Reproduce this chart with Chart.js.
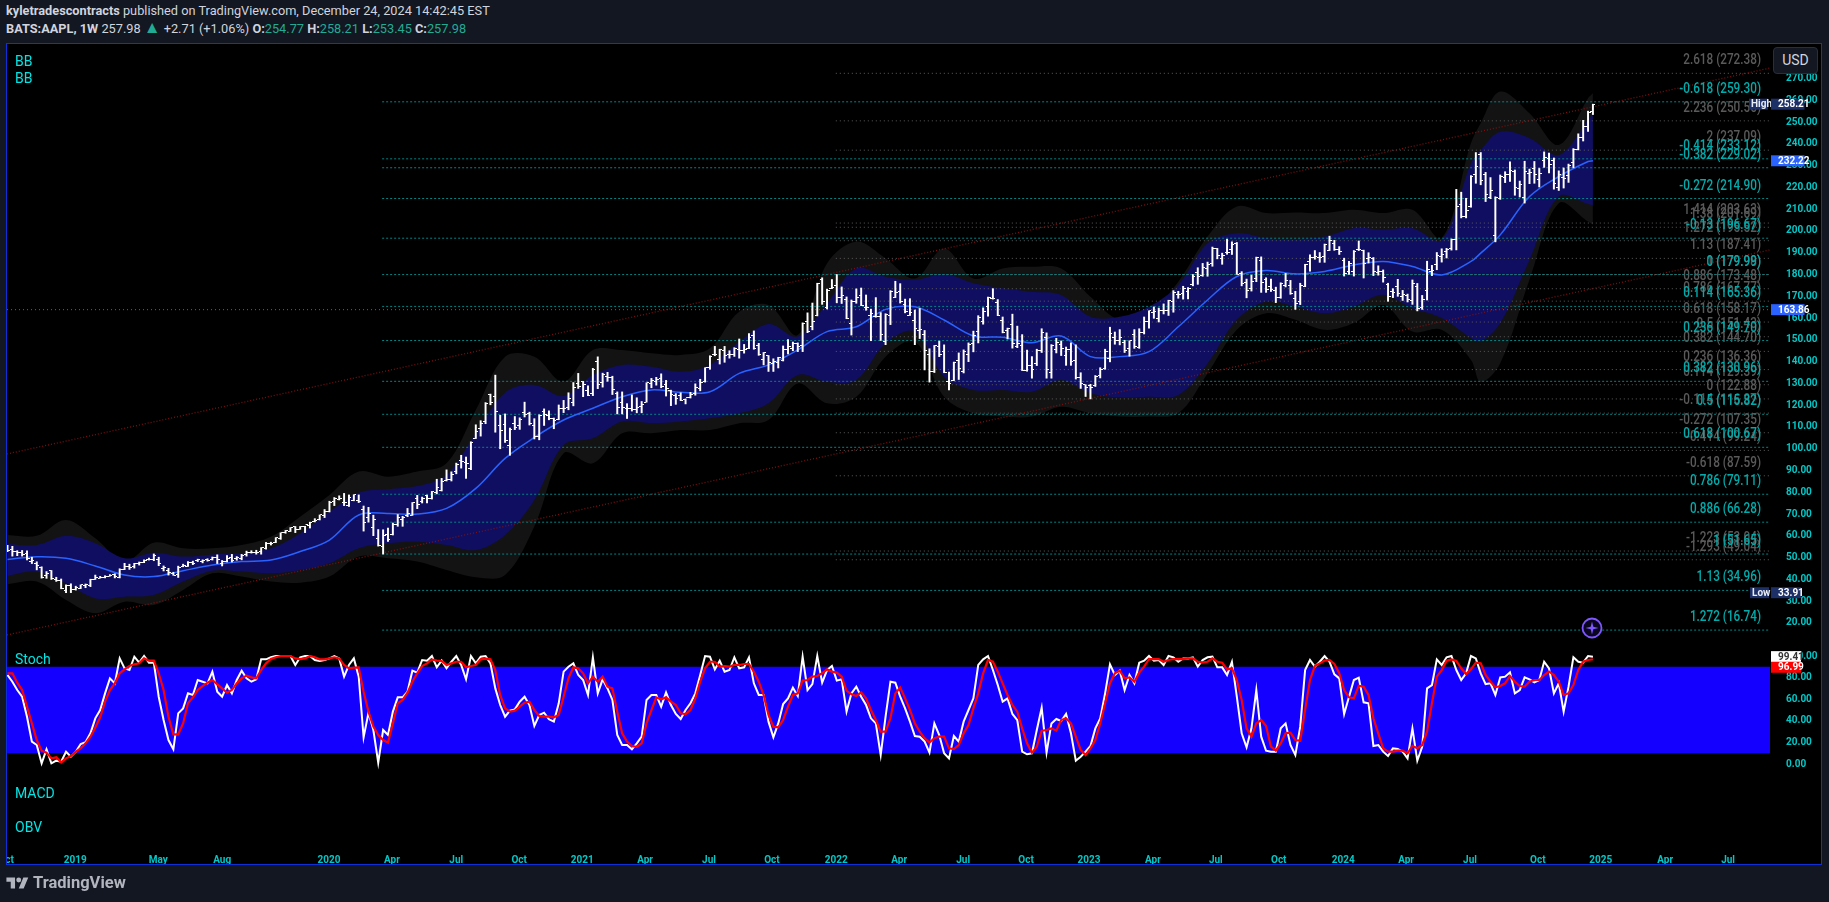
<!DOCTYPE html>
<html>
<head>
<meta charset="utf-8">
<title>BATS:AAPL 1W</title>
<script src="https://cdn.jsdelivr.net/npm/chart.js@4"></script>
<style>
  html, body { margin: 0; background: #131722; overflow: hidden; width: 1829px; height: 902px; }
  body { position: relative; font-family: Roboto, sans-serif; color: #d1d4dc; }
  .abs { position: absolute; white-space: pre; line-height: 1; }
  #panel { position: absolute; left: 6px; top: 43px; width: 1814px; height: 820px; border: 1px solid #0f2fd8; background: #000; }
  #c { position: absolute; left: 7px; top: 44px; }
  .ind { color: #00e5e5; font-size: 14px; }
  .hd { font-size: 12.75px; left: 6px; }
  .hd b { font-weight: 700; }
  .v { color: #22ab94; }
  .up { color: #22ab94; font-size: 17px; line-height: 0; }
  #usd { position: absolute; left: 1773px; top: 47px; width: 43px; height: 25px; border: 1px solid #2a2e39; border-radius: 4px; background: #131722; color: #d1d4dc; font-size: 14px; text-align: center; line-height: 25px; }
</style>
</head>
<body>
<div class="abs hd" style="top:5px"><b>kyletradescontracts</b> published on TradingView.com, December 24, 2024 14:42:45 EST</div>
<div class="abs hd" style="top:23px"><b>BATS:AAPL, 1W</b> 257.98 <span class="up">▲</span> +2.71 (+1.06%) <b>O:</b><span class="v">254.77</span> <b>H:</b><span class="v">258.21</span> <b>L:</b><span class="v">253.45</span> <b>C:</b><span class="v">257.98</span></div>
<div id="panel"></div>
<canvas id="c" width="1814" height="820"></canvas>
<div class="abs ind" style="left:15px;top:54px">BB</div>
<div class="abs ind" style="left:15px;top:71px">BB</div>
<div class="abs ind" style="left:15px;top:652px">Stoch</div>
<div class="abs ind" style="left:15px;top:786px">MACD</div>
<div class="abs ind" style="left:15px;top:820px">OBV</div>
<div id="usd">USD</div>
<svg class="abs" style="left:1581px;top:617px" width="22" height="22" viewBox="0 0 22 22">
  <circle cx="11" cy="11" r="9.5" fill="#0b0620" stroke="#7e57ff" stroke-width="1.8"/>
  <path d="M11 4.5 L12.3 9.7 L17.5 11 L12.3 12.3 L11 17.5 L9.7 12.3 L4.5 11 L9.7 9.7 Z" fill="#7e57ff"/>
</svg>
<svg class="abs" style="left:6px;top:875px" width="23" height="16" viewBox="0 0 36 26">
  <path d="M14 22H7V11H0V4h14v18zM28 22h-8l7.5-18h8L28 22z" fill="#b2b5be"/><circle cx="20" cy="8" r="4" fill="#b2b5be"/>
</svg>
<div class="abs" style="left:33px;top:875px;font-size:16.5px;font-weight:700;color:#b2b5be;">TradingView</div>
<script>
// weekly bars, Oct 2018 - Dec 2024
var opens = [
  54.4,53.9,52.8,52.5,51.8,48.4,47.3,45.4,41.6,44,40.1,39.6,34.9,37.4,
  35.6,36,37.3,37.4,40.1,40.6,40.7,41.5,42.1,40.9,44.7,46,46,47.2,47.9,49,49.1,49.1,45,44.1,42.9,42.1,46,46.1,47.6,48.8,48.2,49,49.3,50,47.5,48.1,49.9,49.4,49.5,51.6,52.2,52.5,53,54.1,56.4,57,58.7,61.7,62,64.2,63.1,64.3,64.8,66.4,67.3,69.5,
  71.2,75.6,76.9,75.2,73.8,76.1,76.4,72.1,68.5,63.9,58.7,55.3,60.8,60.8,65.1,67.4,69.2,69.5,77,76,78.5,77,80.1,80.8,85.2,85.7,89.7,94.4,93.5,90.9,104.9,109.2,112.5,124.8,123.8,110.5,111.3,101.4,111.6,110.5,116.5,116.4,110.6,105.8,116.9,115.3,113.7,113.5,118.6,118.9,121.3,130,
  130.8,126.6,125.2,140.2,130.5,133.3,132.8,125.4,121.3,118.5,118.6,117.9,119.2,121.4,129.9,130.8,132.1,129.4,126.8,124.3,124.5,122.6,123.7,125.2,127.7,130.7,137.3,143.3,140.9,145.3,143.5,143.3,145.5,145.3,146,151.9,147.6,140.9,142.6,139,139.5,140.6,145.7,146,148.4,147.4,158.5,156.2,161,177.5,164.9,173.6,
  174.9,169.5,168.7,157.4,167.5,170.2,164.8,161.4,160.5,160.9,149.2,161,169.6,172,166.2,161.4,158.7,154.3,152.6,143.4,135.7,146.9,144.8,130.9,131.4,140.6,135.7,143.5,148.4,153.7,158.6,165.2,168.9,167.2,158.7,154.2,157.2,147.1,147.5,136.1,138.3,139,145,150.9,135,145.8,148,142.9,145.8,140.6,132.8,129.4,
  129,129.2,133.5,136.7,141.6,151.1,149.5,148.7,146.2,152.3,146.3,153.5,158.3,162.7,159.8,163.4,163.4,167.6,170.8,171.5,172.2,175.2,180.8,179.5,182.6,184.9,191.9,187.4,190,191.5,194.1,180.3,176.2,173.4,178.3,186.4,177.7,174.7,172.5,169.5,175,175,169.2,167.7,174.6,185.8,188,187.9,188.3,191.2,194.1,191.7,
  186.3,181.2,181.3,191.3,191,187.3,187.5,180.9,181.3,175.3,172,174.7,169.7,170.3,168.2,174.5,164.7,172.5,181.5,184.5,188.4,190.5,191.9,196,212.3,206.7,211,225.9,235.3,225.9,215.4,198.1,214.9,224.6,225.7,227.5,219.7,215.4,226.2,228.9,223.4,232.4,233.4,232.2,219.9,224.6,225.3,231.5,237.3,242.9,248,254.77
];
var highs = [
  55.7,55.2,53.2,53.3,53.1,50.2,48.1,45.8,43.6,44.1,41,40.2,37.5,38,
  36.9,37.5,37.9,40.1,42,41.4,41.7,42.2,42.6,44.9,47.4,47,47.4,48,49,49.8,51.7,50.2,46.2,45.1,43.3,46.1,47,48.2,48.4,49.3,49,49.5,50.3,51.3,48.7,50.9,51.5,50.5,51.5,53,53.2,53.4,54.6,57,57.1,59.2,61.4,62.5,63.8,64.3,64.3,64.4,66.3,67.9,69.6,72.1,
  75.9,77.6,78.4,79.5,78.8,78.9,78.8,73.7,73.1,69.5,62.9,62.8,63.6,65.9,69.8,69,72.6,75.3,78.6,77.8,78.7,80.4,86,86.4,90.3,89.4,93.4,97,96.2,103.2,111,112.9,121.2,125.1,133.8,115.4,116,109.5,114.8,114.2,121.4,116.8,113.8,115.6,118.3,117.4,114.1,120.1,122.2,125.7,130.4,134.6,
  130.9,128.9,136.9,142.2,134.7,135.1,133.3,126.1,126.1,120.7,124.7,123.4,121.7,130.3,132.3,132.8,134.4,131.4,126.9,125.3,125.7,122.9,125.9,129.8,131.9,137.2,142.7,147,145.7,147,145,146.4,150.4,147.9,152.9,154.1,148.4,144.2,142.8,141.3,142,147.2,150.1,149,148.6,157.8,162.4,166.9,176,178.5,173.3,177.7,
  179.99,174.3,169.7,168.3,173.4,173.8,170.6,164.1,169.4,162.5,162,172.6,176.9,175.8,168.7,168.9,163.7,164.4,154.3,145.9,147.4,149.4,147.7,135.2,139.8,144,145.4,148.6,154,161.1,164.7,169.6,173.5,168.5,160.5,155.4,161.8,156.3,152.4,145.3,142.3,145.7,155.1,153.2,147.8,150.7,149.5,146.7,148.6,147.7,134.9,129.4,
  129.6,133.6,137.2,145.7,155.8,153.6,154.7,149.8,149.6,154.7,155.1,160.5,163.3,165.1,164.6,166.5,168.2,172.6,172.3,174.6,174,180,183.1,185.1,185.7,192.6,192,189.8,196.2,195,194.7,181.3,177.9,179.7,188,188.1,178.5,177.9,174.2,176.2,180.5,177.3,172.3,176,184.7,189,191,190.1,194,197.6,195.7,192.8,
  187.5,186.1,191,195.4,191.2,190,187.8,184,182.1,176,173.5,177.8,172.7,171,177.5,175.9,170.4,186.1,184.2,190.1,191.8,192,196.3,219.1,217.8,215,225.4,236,236,226.9,224.5,215.7,225.7,227.2,231.7,228,222.9,232,228.4,231.9,228.7,236.3,235.7,233.5,227.6,228.9,230.7,237.8,244.6,250.8,255,258.21
];
var lows = [
  52.7,50.7,50.9,50.7,49,47.3,44.4,40.6,40.5,40,39.1,35.7,33.91,33.95,
  35.1,35.8,36.2,36.7,40,40.6,40.7,41.5,40.7,40.7,44.5,44.6,45.2,46.6,47.7,48.9,48.6,46.3,43.9,42,41.9,40.9,45.8,46,46.8,48.2,47.6,48.4,48.9,47.3,46.2,48,48,48.8,49,50.7,52.1,51.6,51.6,53.9,55.8,56.9,58.4,61.2,62,61.5,63,61.5,63.6,66.4,67.3,68.4,
  71,73.9,76.5,73.9,73.5,76.1,75.3,62.2,66.3,60.1,55.3,51.65,57.4,60.4,64.4,64.4,68.8,69.4,72.5,75.1,75.1,76.9,79.3,80.6,85.2,85.2,88.5,91.1,86.4,90.4,104.7,105.8,111.5,120.2,107.6,100,102.9,97,108.8,108.9,114.6,110.9,104.5,104.1,110.7,113.3,109.2,113.3,116.6,117.9,119.7,127.7,
  123.9,124.4,124.4,127.6,128.3,131,124.9,116,116,113.9,117.3,116.5,116.5,121.4,128,129.2,128,124.2,119.8,120.4,122.1,120.6,123.3,124.6,126.6,130.6,136.5,142.7,138.9,139.7,141.6,142.4,141.6,143.9,145.9,145.7,142.9,138.5,135.5,135.5,137.1,140.3,143.5,145,144.6,144.6,153.3,154.6,161,166.3,164.2,173.5,
  167,166.7,159.7,152.2,166.8,165.7,163.6,149.6,160.4,149.7,147.8,157,169.4,166.9,162.4,161.2,147.8,150.6,136.2,130.6,135,142.3,134.9,127,131.3,131.8,134.8,140,144.5,148.6,157.2,160.9,168.7,161.1,153.2,150.4,146.2,146.4,135.9,135.6,132.4,138.2,144.2,132.4,132.4,144,142.8,138.3,138.3,132,127.7,124,
  122.88,128.6,132.5,136.5,139.9,148,147.7,144.2,142.5,146.1,146.1,152.7,155.4,159.9,158.2,161.9,161.2,162.7,169.1,168.7,168.8,174.8,175.5,179.2,179.2,183.8,187.2,184.7,189.3,189.2,180.1,174.8,169.3,172.4,176.7,171.8,171.8,172.2,167.1,169.1,174.3,170.9,164,166.2,174.4,181.5,187,185.6,185.6,191,191.1,189.2,
  179.3,180,179.3,191,178.4,185.3,179.5,179.7,176.5,167.7,169.4,170,168.1,167.4,166.3,163.3,164,168.3,179.5,182.2,185.7,187.6,191.2,191.3,206,206,210.9,221.9,221.2,213.5,214.8,195,214.5,222.2,222.8,216.4,215.6,212.8,221.7,221.9,220.2,229.2,226.7,219.2,218.6,219.7,222.3,229,237.2,241.3,245.7,253.45
];
var closes = [
  53.5,53,52.4,51.6,49.5,48.8,46.2,41.1,42.6,40.2,39.5,36,37.3,35.4,
  36.4,37.5,37.7,39.8,40.7,40.8,41.5,42,41.5,44.7,45.9,45.6,47.3,47.7,48.9,49,50.8,47.3,45.4,43,42,45.6,46.3,47.7,47.5,49,48.8,48.6,49.9,49,48.2,49.6,48.6,50.1,51.2,52.5,52.3,52.5,54.5,56.7,56.5,59.2,61.4,62.4,63.8,62.8,64.1,65,66,67.1,69.6,71.4,
  75.3,77.3,77.2,75.1,77.6,78.8,75.9,66.3,70.1,67.4,55.6,60.1,58.5,65,68.6,68.6,70.1,75.2,74.6,77.3,77.1,80.4,82.2,84.8,85.8,88.3,93,94.1,93.4,103.1,107.8,111.5,120.6,121.1,117.3,108.6,103.6,108.9,109.6,113.5,115.5,111.6,105.6,115.1,115.7,113.8,113.1,118.6,118.7,122.9,128,128.7,
  129.4,124.6,136.3,129.3,134,132.7,127.3,118.8,119,118.6,118.1,118.8,120.5,130.3,131.5,131.6,128.8,127.6,124.9,122.9,122.1,123.4,124.8,127.9,130.4,137.2,142.2,143.5,145.6,142.9,143.2,146.1,145.2,145.6,151.2,146,143.1,144,139.8,140,141.9,145.7,146.8,148.3,147,157.3,153.7,158.6,175.9,167.7,172.8,174,
  169.4,170.3,159.8,167.6,169.6,166,164.7,162.3,160.7,152.4,161.5,172,171.7,167.5,162.8,162.6,155.3,154.9,144.9,135.5,147.4,143.2,135.1,129.9,139.5,136.9,144.8,147.9,151.8,160.1,162.9,169.5,168.9,161.2,153.5,155,148.4,148.2,136.1,138,136.3,145.1,153.4,136.3,147.4,149,145.9,145.6,140,132.5,129.9,128,
  128.3,133.4,136.5,144.5,153,149.5,151,145.2,149.5,147,153.5,158.6,163.3,163,163.6,163.4,168,171.8,170.8,173.4,173.7,179.1,179.1,183.1,184.8,192,188.8,188.8,190,193.9,180.2,176,172.8,176.8,187.6,176.4,173.3,173,169.5,175.7,177.1,171.2,166.5,174.9,184.5,187.8,188.1,188,193.7,195.6,191.7,190.6,
  180.3,185,190.6,191.5,184.9,187.9,181.4,181.6,178.8,169.9,171.8,171.4,170.6,168.7,175.7,164.2,168.5,182.5,181.8,188.9,189,191.3,195.9,211.4,206.5,209.6,225.2,229.4,223.2,216.9,218.8,215.2,224.9,225.7,227.9,219.8,221.4,227.1,226.7,225.7,226.5,233.9,230.3,221.8,225.8,224.2,229.9,237.3,242.8,248.1,254.5,257.98
];

// bollinger envelopes, read at these bar numbers
var bbIndex = [0,6,12,18,24,30,36,42,48,54,60,66,72,78,84,90,96,102,108,114,120,126,132,138,144,150,156,162,168,174,180,186,192,198,204,210,216,222,228,234,240,246,252,258,264,270,276,282,288,294,300,302,306,312,318,324,325];
var bbBasis = [49.2,50.4,49.7,46.2,42,41.3,44,46.6,48.2,48.9,52.8,58.1,69.6,70.3,70,72.6,81.8,95.6,105.2,113.2,118.6,123.9,127,125.9,126.2,134.6,138.5,145.4,153.8,156,164,165.2,159.1,151.8,151.2,148.7,151.8,142.3,142.3,144.6,156,168.3,179.1,181.8,180.3,181.4,184.4,186,183.7,179.8,186,189.8,198.2,215.8,225,231.9,232.22];
var bbInnerUp = [56.3,55.8,60,56.6,49.7,52.3,50.5,51.5,52,54.3,61.2,71.1,79.8,81.4,82.9,88,107.1,125.8,129.3,124.2,133.9,138.5,137.7,135.4,138.5,149.2,157.3,151.5,166.8,182.8,179,177.5,180.2,176,173.7,172.1,170.6,160.6,160.6,165.2,175.2,194.3,199,196.7,196.2,197.4,201.3,200.5,201.3,195.9,231.1,237.2,245.6,242.6,234.9,251,254];
var bbInnerLow = [41.6,43.6,38.2,31.3,32.1,32.9,39,44,43.6,42.8,44.3,47.4,54.3,56.6,57.3,55.8,53.5,60.4,76.5,101.7,104.8,112.5,111.7,112.5,114,116.3,120.9,133.9,130.8,131.6,148.4,153.8,133.1,127,127,126.2,131.6,125.5,123.6,123.9,124.7,139.2,159.2,167.6,165.3,162.2,165.3,170.7,164.5,160,150.8,149.2,157.7,186.7,215.8,212.4,211.7];
var bbOuterUp = [60.4,60,67.3,58.9,48.2,56.9,54.3,54.3,55.8,59.6,68.8,78.8,89.5,87.2,89.5,93.3,117.8,142.3,142.3,130.8,145.3,145.3,143.8,143.1,146.1,162.9,166,152.2,185.1,195.1,187.4,178.2,192,178.2,182.8,183.6,182.8,169.8,159.1,162.2,176.7,197.4,211.2,208.2,208.5,208.2,209.7,208.2,209.7,196.7,240.3,249.5,264,254.1,239.5,260.9,263.2];
var bbOuterLow = [37.8,39,30.6,24.5,29.8,28.3,35.2,42.8,41.3,39,38.5,41.3,50.5,49.7,48.2,44.3,41,42,64.3,97.9,93.3,107.1,107.1,108.6,108.6,111.7,113.2,130,120.9,123.9,142.3,149.2,123.9,116.3,114.8,114.8,119.3,116.3,114.8,114.8,116.3,134.6,154.6,162.2,159.2,154.6,157.7,166,153.8,154.6,140.8,130.7,139.3,177.6,212.7,204.3,202.8];

// stochastic
var stochK = [
  82.4,76.2,68.5,62.3,43.8,20.7,17.6,0.6,13.6,0.6,3.1,2.2,11.4,6.8,11.4,18.5,20.1,28.4,42.3,50,65.4,79.3,74.7,97.8,88.6,87,99.4,93.8,100,93.8,93.8,62.3,40.7,22.2,13.6,46.9,51.5,65.4,63.9,77.8,76.2,74.7,85.5,67,62.3,73.1,65.4,77.8,86.4,79.3,76.2,78.4,96.9,96.9,98.8,100,100,100,100,91.7,98.8,100,100,96.3,95.4,96.3,97.8,100,97.8,80.9,91.7,97.8,80.9,24.7,47.5,31.5,1.2,31.5,26.8,48.5,61.7,61.7,67,86.4,84.6,96.3,95.7,100,89.5,95.7,88.6,94.7,100,91.7,78.4,100,93.2,99.4,100,93.2,70,54.6,43.8,49.4,50.6,57.7,62.3,54.6,35.2,45.4,47.5,41.4,39.2,56.2,85.5,90.1,93.2,82.4,77.8,63.9,98.8,65.4,78.4,70,
  59.3,26.8,17.6,17.6,13.6,19.1,25.3,59.3,63.9,63.9,53.1,66.3,54.6,46.3,41.7,50,56.2,65.4,82.4,100,99.4,87.6,95.7,85.5,87,98.8,88.6,89.5,98.8,74.7,63.9,63.9,39.2,24.7,37.6,55.5,60.8,70.7,63,99.4,68.5,74,100,75.3,87,90.7,77.2,78.4,48.5,65.4,71.6,62.3,54.6,42.3,37.6,8.3,43.8,76.2,75.3,62.3,51.5,39.2,25.9,25.3,20.7,10.5,37.6,26.8,9.9,5.2,25.9,20.7,39.2,50,60.8,91.7,96.9,100,87,73.1,57.7,60.8,46.3,40.7,11.4,9,9.9,31.5,52.2,10.5,37.6,41.7,39.8,46.3,28.4,3.1,6.8,11.4,16.7,33,42.3,65.4,92.3,82.4,86.4,68.5,82.4,74.7,93.8,95.7,100,95.7,96.3,91.7,100,98.8,94.7,97.8,97.8,98.8,90.1,96.3,98.8,99.4,89.5,
  89.5,82.4,94.7,62.3,28.4,15.4,33,68.5,25.3,12.3,11.4,11.4,33,37.6,17.6,8.3,34.6,87,96.3,90.1,94.7,100,94.7,83,79.3,46.3,62.3,77.8,79.9,57.1,56.2,16.7,17.6,11.4,7.4,14.5,13.9,11.4,5.2,33,3.1,16,70,73.1,96.9,91.7,98.8,100,87,77.8,83.9,100,97.8,83.9,74,74.7,63.9,80.2,80.9,84.9,65.4,68.5,80.2,78.4,75.6,77.8,94.7,88.6,65.4,74.7,48.5,71.6,98.8,94.7,93.8,100,99.41
];
var stochD = [
  84,84,75.3,68.5,53.1,37.6,22.2,12.3,10.5,5.2,6.2,1.5,5.2,7.4,11.4,14.5,19.1,25.3,33.9,43.2,57.7,68.5,74.7,84,87.6,90.7,92.3,93.2,97.8,95.7,95.7,84,68.5,43.8,27.5,27.5,37.6,56.2,61.7,68.5,72.2,75.3,77.8,73.8,70,66,68.5,74.7,79.3,81.8,80.2,79.3,87,93.2,97.2,98.8,100,100,100,97.8,97.2,97.8,100,98.8,96.9,96.9,97.8,98.8,97.8,91.7,88.6,89.2,89.5,67,48.5,34.6,26.8,22.2,19.8,37.6,56.2,59.3,66,76.2,84,90.7,93.2,96.9,95.7,95.4,91.7,93.2,94.7,94.7,89.5,90.7,91.7,96.9,97.5,96.9,87,63.9,51.5,48.5,49.4,53.1,56.8,57.7,50,44.4,43.8,43.8,43.2,45.4,62.3,79.3,89.5,88.6,84,74.7,80.9,76.2,80.9,71.6,
  70,48.5,28.4,20.7,16.7,16,19.1,37.6,50,61.7,59.9,61.7,57.7,54.6,46.9,46.3,50,60.8,76.2,88.6,94.7,94.7,90.1,90.7,90.1,91.7,91.7,92.6,92.6,85.5,76.2,63.9,45.4,34.6,33.9,40.7,53.1,63.9,65.4,77.2,77.8,80.9,81.5,84,87.6,85.5,84.6,80.9,67.9,64.5,63,66.3,60.8,50,40.7,29.9,29.9,42.3,65.4,70.7,60.8,50,37.6,29.9,23.8,19.8,23.8,25.3,25.3,14.5,13.9,17.6,28.4,36.1,51.5,65.4,84,96.3,94.7,85.5,74.7,63.9,54.6,48.5,33,19.1,10.5,16,30.9,31.5,33,30.9,40.7,42.3,37.6,25.3,13,8.3,14.5,22.2,37.6,56.2,74.7,84,86.4,79.3,80.2,76.2,84.6,90.1,97.2,97.2,97.2,94.7,96.3,97.2,97.2,97.2,97.8,97.8,94.7,94.1,94.7,97.8,94.7,
  93.8,87.6,88.6,77.8,59.3,33,25.3,37.6,40.7,35.2,16,12.3,19.1,28.4,29,22.2,21.6,50,77.8,90.7,93.2,95.7,96.3,92.6,84,68.5,61.7,60.8,72.5,71.6,63.9,42.3,28.4,14.5,11.4,11.4,12.3,12.3,9.9,16.7,14.5,17.6,29.9,56.2,80.9,87,95.7,96.9,95.4,88.6,83.3,87.6,93.8,93.2,82.4,76.2,71,72.2,74.7,81.5,76.2,72.2,71.6,76.2,77.8,77.8,82.4,85.5,82.4,76.2,63.9,65.4,73.1,87,94.7,96.3,96.99
];
var stochLevels = [90, 10];

// fib retracements
var tealLevels = ['-0.618','-0.414','-0.382','-0.272','-0.13','0','0.114','0.236','0.382','0.5','0.618','0.786','0.886','1','1.13','1.272'];
var tealValues = [259.30,233.12,229.02,214.90,196.67,179.99,165.36,149.70,130.96,115.82,100.67,79.11,66.28,51.65,34.96,16.74];
var grayLevels = ['2.618','2.236','2','1.414','1.38','1.272','1.13','1','0.886','0.786','0.618','0.5','0.382','0.236','0.114','0','-0.114','-0.272','-0.414','-0.618','-1.223','-1.293'];
var grayValues = [272.38,250.56,237.09,203.63,201.69,195.52,187.41,179.98,173.48,167.77,158.17,151.43,144.70,136.36,129.39,122.88,116.37,107.35,99.24,87.59,53.04,49.04];
var tealStart = 76.8, grayStart = 169.8, lastPriceLine = 163.86;

// channel end points: bar number, price
var channelX = [-0.1, 361.3];
var channelUp = [97.6, 274.8];
var channelLow = [14.5, 191.3];

var priceTicks = [20,30,40,50,60,70,80,90,100,110,120,130,140,150,160,170,180,190,200,210,220,230,240,250,260,270];
var stochTicks = [0,20,40,60,80,100];
var timeTickPos = [-0.27,13.9,30.9,44,65.9,78.8,92,104.9,117.8,130.7,143.8,156.7,169.9,182.8,195.9,208.8,221.7,234.8,247.7,260.6,273.8,286.7,299.8,313.7,326.6,339.8,352.7];
var timeTickLabels = ['Oct','2019','May','Aug','2020','Apr','Jul','Oct','2021','Apr','Jul','Oct','2022','Apr','Jul','Oct','2023','Apr','Jul','Oct','2024','Apr','Jul','Oct','2025','Apr','Jul'];

var xMin = -0.1, xMax = 361.3;
var axisFont = { family: 'Roboto, sans-serif', size: 10, weight: 'bold' };

function pts(xs, ys) { return xs.map(function (x, i) { return { x: x, y: ys[i] }; }); }
function flat(x0, x1, v) { return [{ x: x0, y: v }, { x: x1, y: v }]; }
function plainLine(data, color, width, dash, order, axis, tension) {
  return { type: 'line', data: data, borderColor: color, borderWidth: width, borderDash: dash || [], pointRadius: 0, tension: tension || 0, fill: false, order: order, yAxisID: axis || 'y' };
}
function band(data, color, target, order) {
  return { type: 'line', data: data, borderWidth: 0, borderColor: 'transparent', backgroundColor: color, pointRadius: 0, tension: 0.35, fill: target, order: order, yAxisID: 'y' };
}
function tickImage(left) {
  var cv = document.createElement('canvas');
  cv.width = 5; cv.height = 1;
  var g = cv.getContext('2d');
  g.fillStyle = '#fff';
  g.fillRect(left ? 0 : 3, 0, 2, 1);
  return cv;
}

var barIdx = opens.map(function (_, i) { return i; });
var datasets = [];

// bands
datasets.push(band(pts(bbIndex, bbOuterUp), '#131313', '+1', 30));
datasets.push(band(pts(bbIndex, bbOuterLow), 'transparent', false, 30));
datasets.push(band(pts(bbIndex, bbInnerUp), '#100e60', '+1', 29));
datasets.push(band(pts(bbIndex, bbInnerLow), 'transparent', false, 29));

// fib lines
grayValues.forEach(function (v) { datasets.push(plainLine(flat(grayStart, xMax, v), '#5c5c5c', 1, [1, 3], 20)); });
tealValues.forEach(function (v) { datasets.push(plainLine(flat(tealStart, xMax, v), '#008484', 1, [2, 2], 19)); });
datasets.push(plainLine(flat(xMin, xMax, lastPriceLine), '#2962ff', 1, [1, 3], 18));

// channel and basis
datasets.push(plainLine(pts(channelX, channelUp), '#7d1010', 1.3, [1, 2], 17));
datasets.push(plainLine(pts(channelX, channelLow), '#7d1010', 1.3, [1, 2], 17));
datasets.push(plainLine(pts(bbIndex, bbBasis), '#2962ff', 1.5, [], 16, 'y', 0.35));

// ohlc
datasets.push({ type: 'bar', data: barIdx.map(function (i) { return { x: i, y: [lows[i], highs[i]] }; }), backgroundColor: '#fff', barThickness: 1.3, order: 5, yAxisID: 'y' });
datasets.push({ type: 'scatter', data: pts(barIdx, opens), pointStyle: tickImage(true), pointRadius: 3, order: 4, yAxisID: 'y' });
datasets.push({ type: 'scatter', data: pts(barIdx, closes), pointStyle: tickImage(false), pointRadius: 3, order: 4, yAxisID: 'y' });

// stoch pane
datasets.push({ type: 'line', data: flat(xMin, xMax, stochLevels[0]), borderWidth: 0, borderColor: 'transparent', backgroundColor: '#1400ff', pointRadius: 0, fill: '+1', order: 12, yAxisID: 'y2' });
datasets.push({ type: 'line', data: flat(xMin, xMax, stochLevels[1]), borderWidth: 1, borderDash: [1, 2], borderColor: '#000', backgroundColor: 'transparent', pointRadius: 0, fill: false, order: 12, yAxisID: 'y2' });
datasets.push(plainLine(pts(barIdx, stochK), '#ffffff', 2, [], 3, 'y2'));
datasets.push(plainLine(pts(barIdx, stochD), '#ff0000', 2.2, [], 2, 'y2'));

function tag(ctx, x0, x1, yc, bg, fg, text, pad) {
  ctx.fillStyle = bg;
  ctx.fillRect(x0, yc - 5.5, x1 - x0, 11);
  ctx.fillStyle = fg;
  ctx.textAlign = 'left';
  ctx.textBaseline = 'middle';
  ctx.fillText(text, x0 + pad, yc + 0.5);
}

// fib labels are narrower than the font, so squeeze them sideways
function fibLabel(ctx, text, x, y) {
  ctx.save();
  ctx.translate(x, y);
  ctx.scale(0.84, 1);
  ctx.fillText(text, 0, 0);
  ctx.restore();
}

var overlay = {
  id: 'overlay',
  afterDatasetsDraw: function (chart) {
    var ctx = chart.ctx, y = chart.scales.y, right = chart.chartArea.right;
    ctx.save();
    ctx.textBaseline = 'middle';
    ctx.textAlign = 'right';
    ctx.font = '500 14px Roboto, sans-serif';
    var xr = right - 9;
    ctx.fillStyle = '#5a5a5a';
    grayValues.forEach(function (v, i) { fibLabel(ctx, grayLevels[i] + ' (' + v.toFixed(2) + ')', xr, y.getPixelForValue(v) - 12.5); });
    ctx.fillStyle = '#00abab';
    tealValues.forEach(function (v, i) { fibLabel(ctx, tealLevels[i] + ' (' + v.toFixed(2) + ')', xr, y.getPixelForValue(v) - 12.5); });
    ctx.restore();
  },
  afterDraw: function (chart) {
    var ctx = chart.ctx, y = chart.scales.y, y2 = chart.scales.y2, r = chart.chartArea.right;
    ctx.save();
    ctx.font = axisFont.weight + ' ' + axisFont.size + 'px ' + axisFont.family;
    tag(ctx, r - 21, r - 2, y.getPixelForValue(highs[highs.length - 1]), '#1c2f66', '#e8ecf5', 'High', 2);
    tag(ctx, r + 1, r + 34.5, y.getPixelForValue(highs[highs.length - 1]), '#1c2f66', '#ffffff', '258.21', 7);
    tag(ctx, r + 1, r + 34.5, y.getPixelForValue(bbBasis[bbBasis.length - 1]), '#2962ff', '#ffffff', '232.22', 7);
    tag(ctx, r + 1, r + 34.5, y.getPixelForValue(lastPriceLine), '#2962ff', '#ffffff', '163.86', 7);
    tag(ctx, r - 20, r - 1, y.getPixelForValue(33.91), '#1c2f66', '#e8ecf5', 'Low', 2);
    tag(ctx, r + 1, r + 31, y.getPixelForValue(33.91), '#1c2f66', '#ffffff', '33.91', 7);
    tag(ctx, r + 1, r + 31, y2.getPixelForValue(99.41), '#ffffff', '#333333', '99.41', 7);
    tag(ctx, r + 1, r + 31, y2.getPixelForValue(96.99) + 8, '#ff0000', '#ffffff', '96.99', 7);
    ctx.restore();
  }
};

function valueAxis(ticks, min, max, weight) {
  return {
    type: 'linear', position: 'right', stack: 'panes', stackWeight: weight, min: min, max: max,
    grid: { display: false }, border: { display: false },
    ticks: { color: '#00c8c8', font: axisFont, padding: 8, autoSkip: false, callback: function (v) { return Number(v).toFixed(2); } },
    afterBuildTicks: function (s) { s.ticks = ticks.map(function (v) { return { value: v }; }); },
    afterFit: function (s) { s.width = 51; s.paddingTop = 0; s.paddingBottom = 0; }
  };
}

new Chart(document.getElementById('c').getContext('2d'), {
  type: 'line',
  data: { datasets: datasets },
  plugins: [overlay],
  options: {
    responsive: false,
    animation: false,
    events: [],
    layout: { padding: 0, autoPadding: false },
    plugins: { legend: { display: false }, tooltip: { enabled: false } },
    scales: {
      x: {
        type: 'linear', min: xMin, max: xMax, offset: false,
        grid: { display: false }, border: { display: false },
        ticks: {
          color: '#00c8c8', font: axisFont, padding: 3, autoSkip: false, maxRotation: 0,
          callback: function (v, i) { return timeTickLabels[i]; }
        },
        afterBuildTicks: function (s) { s.ticks = timeTickPos.map(function (v) { return { value: v }; }); },
        afterFit: function (s) { s.height = 21; s.paddingLeft = 0; s.paddingRight = 0; }
      },
      y: valueAxis(priceTicks, 7.6, 285.84, 606),
      y2: valueAxis(stochTicks, -73.15, 105.56, 193)
    }
  }
});
</script>
</body>
</html>
